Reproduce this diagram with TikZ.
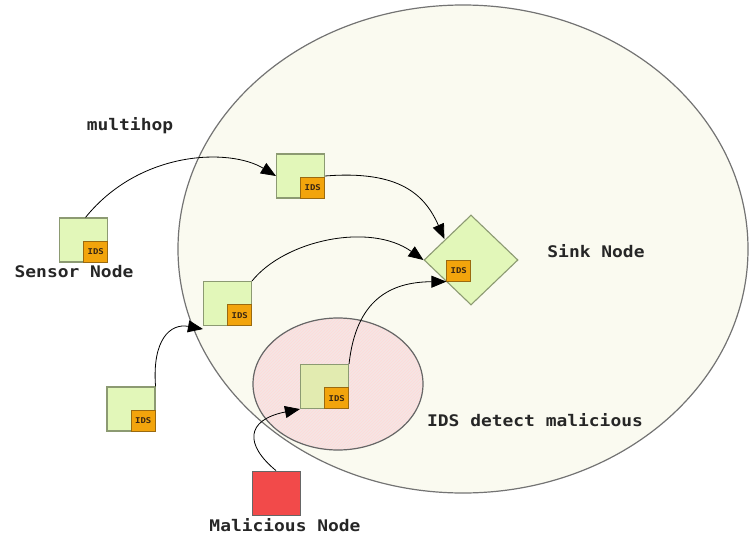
\documentclass[tikz,border=0pt]{standalone}
\usepackage{fontspec}
\newfontfamily\lblfont[FakeStretch=1.12]{DejaVu Sans Mono Bold}
\usetikzlibrary{shapes.geometric,arrows.meta,patterns}
\definecolor{nodegreen}{HTML}{E2F7B9}
\definecolor{nodeborder}{HTML}{8C9A72}
\definecolor{idsfill}{HTML}{F2A40C}
\definecolor{idsborder}{HTML}{9A6A10}
\definecolor{bigfill}{HTML}{FAFAF0}
\definecolor{pinkfill}{HTML}{F5E6E4}
\definecolor{infected}{HTML}{E2EBB0}
\definecolor{malred}{HTML}{F24A4A}
\tikzset{
  sensor/.style={draw=nodeborder, line width=1.1pt, fill=nodegreen, minimum width=48pt, minimum height=44pt, inner sep=0pt},
  idsbox/.style={draw=idsborder, line width=0.6pt, fill=idsfill, minimum width=24pt, minimum height=21pt, inner sep=0pt, font=\fontsize{8}{8}\selectfont\lblfont, text=black!70!brown, text depth=-4pt},
  lbl/.style={font=\fontsize{16}{18}\selectfont\lblfont, text=black!85},
  conn/.style={line width=0.8pt, -{Triangle[length=15pt, width=12pt]}}
}
\begin{document}
\begin{tikzpicture}[x=1pt, y=-1pt]
\useasboundingbox (0,0) rectangle (750,538);
% big ellipse
\node (bigzone) [draw=black!55, line width=1.2pt, fill=bigfill, ellipse, minimum width=570pt, minimum height=488pt, inner sep=0pt] at (463,249) {};
% detection ellipse
\node (detzone) [draw=black!60, line width=1.2pt, ellipse, minimum width=170pt, minimum height=132pt, inner sep=0pt,
  preaction={fill=pinkfill}, pattern=north east lines, pattern color=red!15] at (338,384) {};
% sensor nodes
\node (s1) [sensor] at (83.5,240) {};
\node (s2) [sensor] at (300.5,176) {};
\node (s3) [sensor] at (227.5,303.5) {};
\node (s4) [sensor] at (131,409) {};
\node (s5) [sensor, fill=infected] at (324.5,386.5) {};
\node (sink) [draw=nodeborder, line width=1.1pt, fill=nodegreen, diamond, minimum width=94pt, minimum height=90pt, inner sep=0pt] at (471,260) {};
\node (mal) [draw=black!60, line width=0.8pt, fill=malred, minimum width=48pt, minimum height=44pt, inner sep=0pt] at (276,493) {};
% IDS boxes
\node (i1) [idsbox, anchor=south east] at (s1.south east) {IDS};
\node (i2) [idsbox, anchor=south east] at (s2.south east) {IDS};
\node (i3) [idsbox, anchor=south east] at (s3.south east) {IDS};
\node (i4) [idsbox, anchor=south east] at (s4.south east) {IDS};
\node (i5) [idsbox, anchor=south east] at (s5.south east) {IDS};
\node (i6) [idsbox, anchor=north east] at (sink.center) {IDS};
% labels
\node (l1) [lbl] at (130,126) {multihop};
\node (l2) [lbl] at (74,272) {Sensor Node};
\node (l3) [lbl] at (596,251) {Sink Node};
\node (l4) [lbl] at (535,420) {IDS detect malicious};
\node (l5) [lbl] at (285,525) {Malicious Node};
% connectors
\draw[conn] ([xshift=2pt]s1.north) .. controls (140,150) and (230,148) .. (s2.west);
\draw[conn] (s2.east) .. controls (400,170) and (425,195) .. ([xshift=-2pt,yshift=-1pt]i6.north west |- 0,238);
\draw[conn] (s3.north east) .. controls (285,240) and (370,222) .. (sink.west);
\draw[conn] (s4.north east) .. controls (152,340) and (170,323) .. ([yshift=-3pt]s3.south west);
\draw[conn] (s5.north east) .. controls (356,300) and (390,282) .. (i6.south west);
\draw[conn] (mal.north) .. controls (245,445) and (245,420) .. (s5.south west);
\end{tikzpicture}
\end{document}
